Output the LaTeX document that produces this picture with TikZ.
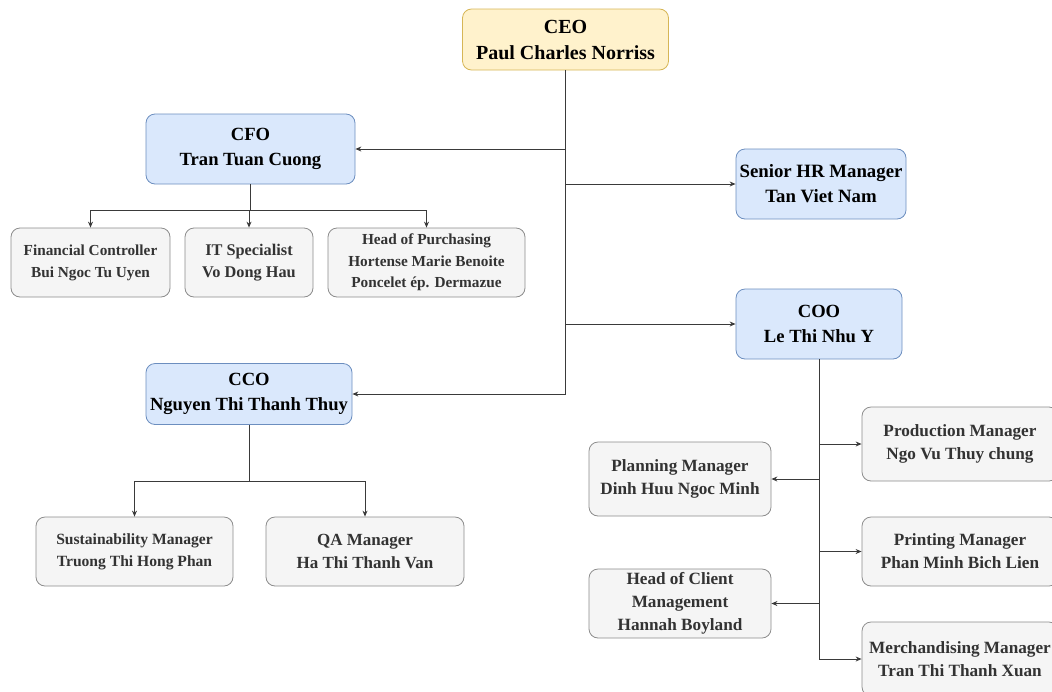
\documentclass[tikz,border=0pt]{standalone}
\usepackage{fontspec}
\setmainfont{Liberation Serif}
\usetikzlibrary{arrows.meta}
\definecolor{yfill}{HTML}{FFF2CC}
\definecolor{ydraw}{HTML}{D6B656}
\definecolor{bfill}{HTML}{DAE8FC}
\definecolor{bdraw}{HTML}{6C8EBF}
\definecolor{gfill}{HTML}{F5F5F5}
\definecolor{gdraw}{HTML}{8C8C8C}
\definecolor{gtext}{HTML}{333333}
\definecolor{lcol}{HTML}{3A3A3A}
\begin{document}
\begin{tikzpicture}[x=1pt,y=-1pt,
  box/.style={rectangle, rounded corners=9pt, line width=0.8pt, align=center, inner sep=0pt, font=\bfseries, text height=, },
  ybox/.style={box, fill=yfill, draw=ydraw, text=black},
  bbox/.style={box, fill=bfill, draw=bdraw, text=black},
  gbox/.style={box, fill=gfill, draw=gdraw, text=gtext},
  conn/.style={draw=lcol, line width=0.9pt},
  arr/.style={conn, -{Stealth[length=6pt,width=5pt]}}
]
\useasboundingbox (0,0) rectangle (1052,691);
% top level
\node[ybox, minimum width=206pt, minimum height=61pt, font=\bfseries\fontsize{20}{26}\selectfont] (ceo) at (565.5,39.5) {CEO\\Paul Charles Norriss};
\node[bbox, minimum width=209pt, minimum height=70pt, font=\bfseries\fontsize{18.6}{25}\selectfont] (cfo) at (250.5,149) {CFO\\Tran Tuan Cuong};
\node[bbox, minimum width=170pt, minimum height=70pt, font=\bfseries\fontsize{18.8}{25}\selectfont] (hr) at (821,184) {Senior HR Manager\\Tan Viet Nam};
\node[bbox, minimum width=166pt, minimum height=70pt, font=\bfseries\fontsize{18.6}{25}\selectfont] (coo) at (819,324) {COO\\Le Thi Nhu Y};
\node[bbox, minimum width=206pt, minimum height=61pt, font=\bfseries\fontsize{18.6}{25}\selectfont] (cco) at (249,394) {CCO\\Nguyen Thi Thanh Thuy};
% CFO reports
\node[gbox, minimum width=159pt, minimum height=69pt, font=\bfseries\fontsize{15.3}{22}\selectfont] (fc) at (90.5,262.5) {Financial Controller\\Bui Ngoc Tu Uyen};
\node[gbox, minimum width=128pt, minimum height=69pt, font=\bfseries\fontsize{16.3}{22}\selectfont] (it) at (249,262.5) {IT Specialist\\Vo Dong Hau};
\node[gbox, minimum width=197pt, minimum height=69pt, font=\bfseries\fontsize{15.3}{21.5}\selectfont] (hp) at (426.5,262.5) {Head of Purchasing\\Hortense Marie Benoite\\Poncelet ép. Dermazue};
% CCO reports
\node[gbox, minimum width=197pt, minimum height=69pt, font=\bfseries\fontsize{15.6}{22}\selectfont] (sm) at (134.5,551.5) {Sustainability Manager\\Truong Thi Hong Phan};
\node[gbox, minimum width=198pt, minimum height=69pt, font=\bfseries\fontsize{17}{23}\selectfont] (qa) at (365,551.5) {QA Manager\\Ha Thi Thanh Van};
% COO reports
\node[gbox, minimum width=182pt, minimum height=74pt, font=\bfseries\fontsize{17.2}{23}\selectfont] (pl) at (680,479) {Planning Manager\\Dinh Huu Ngoc Minh};
\node[gbox, minimum width=182pt, minimum height=69pt, font=\bfseries\fontsize{17.2}{23}\selectfont] (hc) at (680,603.5) {Head of Client\\Management\\Hannah Boyland};
\node[gbox, minimum width=196pt, minimum height=74pt, font=\bfseries\fontsize{17.2}{23}\selectfont] (pr) at (960,444) {Production Manager\\Ngo Vu Thuy chung};
\node[gbox, minimum width=196pt, minimum height=69pt, font=\bfseries\fontsize{17.2}{23}\selectfont] (pt) at (960,551.5) {Printing Manager\\Phan Minh Bich Lien};
\node[gbox, minimum width=196pt, minimum height=74pt, font=\bfseries\fontsize{17.2}{23}\selectfont] (mr) at (960,659) {Merchandising Manager\\Tran Thi Thanh Xuan};
% CEO connectors
\draw[arr] (ceo.south) |- (cfo.east);
\draw[arr] (ceo.south) |- (hr.west);
\draw[arr] (ceo.south) |- (coo.west);
\draw[arr] (ceo.south) |- (cco.east);
% CFO connectors
\coordinate (cfobus) at (250.5,210);
\draw[conn] (cfo.south) -- (cfobus);
\draw[arr] (cfobus) -| (fc.north);
\draw[arr] (cfobus) -| (it.north);
\draw[arr] (cfobus) -| (hp.north);
% CCO connectors
\coordinate (ccobus) at (249,481);
\draw[conn] (cco.south) -- (ccobus);
\draw[arr] (ccobus) -| (sm.north);
\draw[arr] (ccobus) -| (qa.north);
% COO connectors
\draw[arr] (coo.south) |- (pr.west);
\draw[arr] (coo.south) |- (pl.east);
\draw[arr] (coo.south) |- (pt.west);
\draw[arr] (coo.south) |- (hc.east);
\draw[arr] (coo.south) |- (mr.west);
\end{tikzpicture}
\end{document}
